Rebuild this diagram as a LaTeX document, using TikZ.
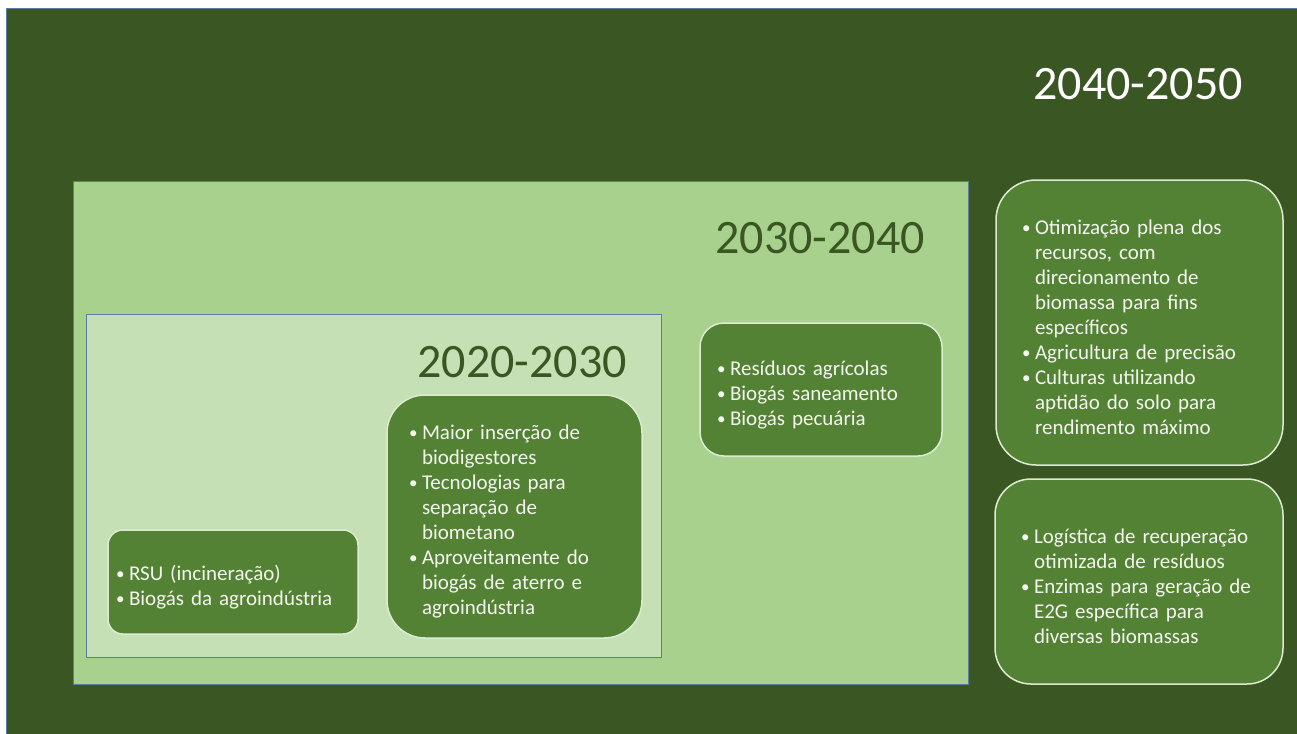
\documentclass[tikz,border=0pt]{standalone}
\usepackage{fontspec}
\setmainfont{Carlito}
\definecolor{bgdark}{HTML}{3A5723}
\definecolor{midgreen}{HTML}{A9D18E}
\definecolor{lightgreen}{HTML}{C5E0B4}
\definecolor{boxgreen}{HTML}{548235}
\definecolor{boxline}{HTML}{DCEBD2}
\definecolor{frameline}{HTML}{5A7EA0}
\definecolor{txtlight}{HTML}{F4F6F0}
\newcommand\bitem[1]{\par\noindent\hangindent=13pt\hangafter=1\makebox[13pt][l]{\fontsize{17}{17}\selectfont\raisebox{1pt}{•}}#1\par}
\newcommand\nl{\hfil\break}
\tikzset{
  frame/.style={draw=frameline, line width=1pt},
  gbox/.style={draw=boxline, fill=boxgreen, line width=1.5pt, text=txtlight,
    font=\fontsize{21}{25}\selectfont, inner ysep=0pt},
  year/.style={inner sep=0pt, anchor=base east, font=\fontsize{48}{56}\selectfont}
}
\begin{document}
\begin{tikzpicture}[x=1pt,y=-1pt]
\useasboundingbox (0,0) rectangle (1297,733);
\fill[white] (0,0) rectangle (1297,733);
\clip (0,0) rectangle (1297,733);
\draw[frame, fill=bgdark] (6.5,8.5) rectangle (1310,745);
\draw[frame, fill=midgreen] (73,181) rectangle (968,684);
\draw[frame, fill=lightgreen] (86,314) rectangle (661,657);

\node[year, text=white] (y4050) at (1243,100) {2040-2050};
\node[year, text=bgdark] (y3040) at (925,253) {2030-2040};
\node[year, text=bgdark] (y2030) at (627,377) {2020-2030};

\node[gbox, rounded corners=15pt, minimum width=250pt, minimum height=104pt,
  inner xsep=8pt, text width=234pt] (rsu) at (233,582)
  {\raggedright\bitem{RSU (incineração)}\bitem{Biogás da agroindústria}};

\node[gbox, rounded corners=38pt, minimum width=255pt, minimum height=243pt,
  inner xsep=22pt, text width=211pt] (maior) at (514.5,516.5)
  {\raggedright\bitem{Maior inserção de\nl biodigestores}\bitem{Tecnologias para\nl separação de\nl biometano}\bitem{Aproveitamente do\nl biogás de aterro e\nl agroindústria}};

\node[gbox, rounded corners=24pt, minimum width=242pt, minimum height=133pt,
  inner xsep=17pt, text width=208pt] (resid) at (821,389.5)
  {\raggedright\bitem{Resíduos agrícolas}\bitem{Biogás saneamento}\bitem{Biogás pecuária}};

\node[gbox, rounded corners=40pt, minimum width=287pt, minimum height=285pt,
  inner xsep=26pt, text width=235pt] (otim) at (1139.5,322.5)
  {\raggedright\bitem{Otimização plena dos\nl recursos, com\nl direcionamento de\nl biomassa para fins\nl específicos}\bitem{Agricultura de precisão}\bitem{Culturas utilizando\nl aptidão do solo para\nl rendimento máximo}};

\node[gbox, rounded corners=36pt, minimum width=288pt, minimum height=205pt,
  inner xsep=26pt, text width=236pt] (logis) at (1139,581.5)
  {\raggedright\bitem{Logística de recuperação\nl otimizada de resíduos}\bitem{Enzimas para geração de\nl E2G específica para\nl diversas biomassas}};
\end{tikzpicture}
\end{document}
